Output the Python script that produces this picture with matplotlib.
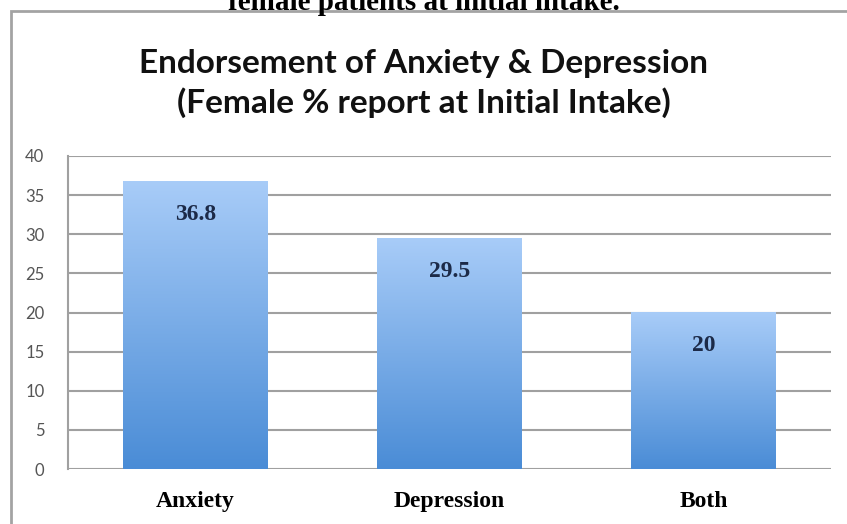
import matplotlib.pyplot as plt
import matplotlib.patches as mpatches
import numpy as np

categories = ["Anxiety", "Depression", "Both"]
values = [36.8, 29.5, 20]
value_labels = ["36.8", "29.5", "20"]
yticks = [0, 5, 10, 15, 20, 25, 30, 35, 40]

fig = plt.figure(figsize=(8.47, 5.24), dpi=100)

# caption of the figure, cut off at the top edge
fig.text(0.5, 1 - 10 / 524, "female patients at initial intake.", ha="center", va="baseline",
         fontsize=21, fontweight="bold", family="Liberation Serif", color="black")

# gray frame round the chart (open to the right and bottom)
frame = mpatches.Rectangle((11 / 847, -0.1), 1.2, 1 - 11 / 524 + 0.1, transform=fig.transFigure,
                           facecolor="none", edgecolor="#a3a3a3", linewidth=2, zorder=-1)
fig.patches.append(frame)

fig.text(0.5, 1 - 63 / 524, "Endorsement of Anxiety & Depression", ha="center", va="center",
         fontsize=24, fontweight="bold", family="Lato", color="#111111")
fig.text(0.5, 1 - 103 / 524, "(Female % report at Initial Intake)", ha="center", va="center",
         fontsize=24, fontweight="bold", family="Lato", color="#111111")

ax = fig.add_axes([68 / 847, 1 - 469 / 524, (831 - 68) / 847, (469 - 156) / 524])
ax.set_facecolor("none")

x = np.arange(len(categories))
bars = ax.bar(x, values, width=0.57, color="none", zorder=2)

# vertical blue gradient, light at the top, darker at the bottom
top = np.array([168, 204, 248]) / 255
bottom = np.array([74, 140, 214]) / 255
t = np.linspace(0, 1, 256)[:, None]
grad = (top * (1 - t) + bottom * t)[:, None, :]
for b in bars:
    x0, y0 = b.get_x(), b.get_y()
    ax.imshow(grad, extent=[x0, x0 + b.get_width(), y0, y0 + b.get_height()],
              aspect="auto", zorder=2, interpolation="bilinear")

for i, v in enumerate(values):
    ax.annotate(value_labels[i], (x[i], v), xytext=(0, -24), textcoords="offset points",
                ha="center", va="center", fontsize=17, fontweight="bold",
                family="Liberation Serif", color="#1c2a48", zorder=3)

ax.set_xlim(-0.5, len(categories) - 0.5)
ax.set_ylim(0, 40)
ax.set_yticks(yticks)
ax.yaxis.grid(True, color="#a0a0a0", linewidth=1.5, zorder=1)
ax.set_axisbelow(True)

for s in ["top", "right", "bottom"]:
    ax.spines[s].set_visible(False)
ax.spines["left"].set_color("#a0a0a0")
ax.spines["left"].set_linewidth(1.5)

ax.set_xticks(x)
ax.set_xticklabels(categories, fontsize=17, fontweight="bold", family="Liberation Serif")
ax.tick_params(axis="x", length=0, pad=16)
ax.tick_params(axis="y", length=0, pad=17, labelsize=12, labelcolor="#555555")
for lab in ax.get_yticklabels():
    lab.set_family("Lato")

fig.savefig("out.png", dpi=100)
